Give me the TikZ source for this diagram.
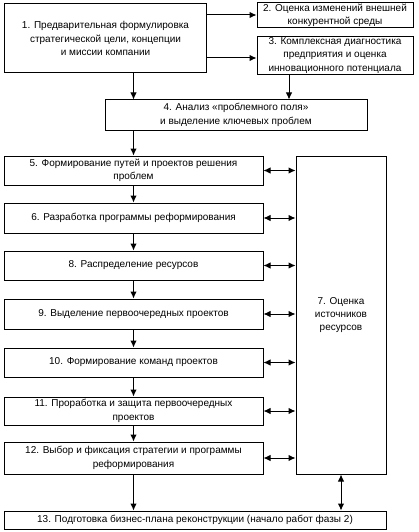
\documentclass[tikz,border=0pt]{standalone}
\usepackage{fontspec}
\setmainfont{Liberation Sans}
\usetikzlibrary{arrows.meta}
\begin{document}
\begin{tikzpicture}[x=1pt,y=-1pt,
  box/.style={draw, line width=1pt, align=center, inner sep=1pt, font=\fontsize{10}{13.3}\selectfont},
  conn/.style={line width=1pt, -{Latex[length=7pt,width=6.5pt]}},
  dconn/.style={line width=1pt, {Latex[length=7pt,width=6.5pt]}-{Latex[length=7pt,width=6.5pt]}}]
\useasboundingbox (0,0) rectangle (418,532);
\node[box, minimum width=202pt, minimum height=69pt] (b1) at (105.5,38.5) {1. Предварительная формулировка\\стратегической цели, концепции\\и миссии компании};
\node[box, minimum width=156pt, minimum height=24pt] (b2) at (335,15) {2. Оценка изменений внешней\\конкурентной среды};
\node[box, minimum width=156pt, minimum height=35pt] (b3) at (335,55.5) {3. Комплексная диагностика\\предприятия и оценка\\инновационного потенциала};
\node[box, minimum width=262pt, minimum height=30pt] (b4) at (236,115) {4. Анализ «проблемного поля»\\и выделение ключевых проблем};
\node[box, minimum width=259pt, minimum height=29pt] (b5) at (133.5,170.5) {5. Формирование путей и проектов решения\\проблем};
\node[box, minimum width=259pt, minimum height=30pt] (b6) at (133.5,218) {6. Разработка программы реформирования};
\node[box, minimum width=259pt, minimum height=29pt] (b8) at (133.5,265.5) {8. Распределение ресурсов};
\node[box, minimum width=259pt, minimum height=30pt] (b9) at (133.5,314) {9. Выделение первоочередных проектов};
\node[box, minimum width=259pt, minimum height=29pt] (b10) at (133.5,362.5) {10. Формирование команд проектов};
\node[box, minimum width=259pt, minimum height=28pt] (b11) at (133.5,411) {11. Проработка и защита первоочередных\\проектов};
\node[box, minimum width=259pt, minimum height=32pt] (b12) at (133.5,458) {12. Выбор и фиксация стратегии и программы\\реформирования};
\node[box, minimum width=90pt, minimum height=318pt] (b7) at (341,315) {7. Оценка\\источников\\ресурсов};
\node[box, minimum width=382pt, minimum height=18pt] (b13) at (195,520) {13. Подготовка бизнес-плана реконструкции (начало работ фазы 2)};
\coordinate (a3) at ([yshift=-2.5pt]b3.west);
\draw[conn] (b1.east |- b2.west) -- (b2.west);
\draw[conn] (b1.east |- a3) -- (a3);
\draw[conn] (b5.north |- b1.south) -- (b5.north |- b4.north);
\draw[conn] ([xshift=-46pt]b3.south) -- ([xshift=-46pt]b3.south |- b4.north);
\draw[conn] (b5.north |- b4.south) -- (b5.north);
\draw[conn] (b5) -- (b6);
\draw[conn] (b6) -- (b8);
\draw[conn] (b8) -- (b9);
\draw[conn] (b9) -- (b10);
\draw[conn] (b10) -- (b11);
\draw[conn] (b11) -- (b12);
\draw[conn] (b12.south) -- (b12.south |- b13.north);
\foreach \n in {b5,b6,b8,b9,b10,b11,b12} {\draw[dconn] (\n.east) -- (\n.east -| b7.west);}
\draw[dconn] (b7.south) -- (b7.south |- b13.north);
\end{tikzpicture}
\end{document}
